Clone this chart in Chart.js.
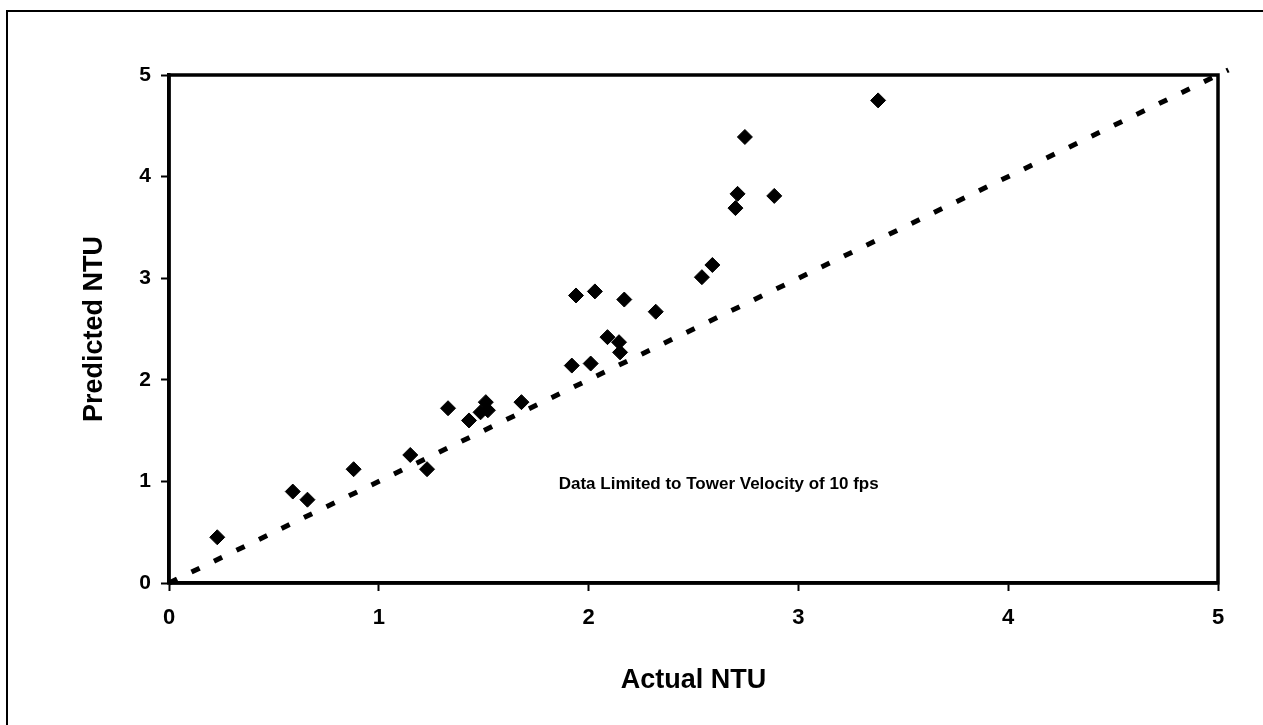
<!DOCTYPE html>
<html>
<head>
<meta charset="utf-8">
<script src="https://cdn.jsdelivr.net/npm/chart.js@4/dist/chart.umd.min.js"></script>
<style>
  html, body { margin: 0; padding: 0; background: #fff; }
  #wrap { width: 1263px; height: 725px; position: relative; }
</style>
</head>
<body>
<div id="wrap"><canvas id="ntuChart" width="1263" height="725"></canvas></div>
<script>
// values
var actualNTU = [0.23, 0.59, 0.66, 0.88, 1.15, 1.23, 1.33, 1.43, 1.485, 1.51, 1.52, 1.68,
                 1.92, 2.01, 2.09, 2.145, 2.15, 1.94, 2.03, 2.17, 2.32, 2.54, 2.59, 2.70,
                 2.71, 2.885, 2.745, 3.38];
var predictedNTU = [0.45, 0.90, 0.82, 1.12, 1.26, 1.12, 1.72, 1.60, 1.68, 1.78, 1.70, 1.78,
                    2.14, 2.16, 2.42, 2.37, 2.27, 2.83, 2.87, 2.79, 2.67, 3.01, 3.13, 3.69,
                    3.83, 3.81, 4.39, 4.75];
var lineX = [0, 5.05];
var lineY = [0, 5.05];
var tickValues = [0, 1, 2, 3, 4, 5];
var noteText = "Data Limited to Tower Velocity of 10 fps";
var noteAt = [2.62, 0.97];

var points = actualNTU.map(function (x, i) { return { x: x, y: predictedNTU[i] }; });
var linePts = lineX.map(function (x, i) { return { x: x, y: lineY[i] }; });

var fontFam = "'Liberation Sans', Arial, sans-serif";

var framePlugin = {
    id: "frame",
    beforeDraw: function (chart) {
        var c = chart.ctx;
        c.save();
        c.fillStyle = "#fff";
        c.fillRect(0, 0, chart.width, chart.height);
        c.strokeStyle = "#000";
        c.lineWidth = 2;
        c.beginPath();
        c.moveTo(7, chart.height + 5);
        c.lineTo(7, 11);
        c.lineTo(chart.width + 5, 11);
        c.stroke();
        c.restore();
    },
    afterDatasetsDraw: function (chart) {
        var c = chart.ctx;
        var a = chart.chartArea;
        c.save();
        c.strokeStyle = "#000";
        c.lineWidth = 3.5;
        c.strokeRect(a.left, a.top, a.right - a.left, a.bottom - a.top);
        var xs = chart.scales.x, ys = chart.scales.y;
        c.fillStyle = "#000";
        c.font = "bold 17px " + fontFam;
        c.letterSpacing = "0px";
        c.textAlign = "center";
        c.textBaseline = "middle";
        c.fillText(noteText, xs.getPixelForValue(noteAt[0]), ys.getPixelForValue(noteAt[1]));
        c.restore();
    }
};

var ctx = document.getElementById("ntuChart").getContext("2d");

var ntuChart = new Chart(ctx, {
    type: "scatter",
    data: {
        datasets: [
            {
                label: "Predicted vs Actual",
                data: points,
                pointStyle: "rectRot",
                pointRadius: 7.5,
                backgroundColor: "#000",
                borderColor: "#000",
                borderWidth: 1,
                order: 1
            },
            {
                type: "line",
                label: "1:1",
                data: linePts,
                borderColor: "#000",
                borderWidth: 5,
                borderDash: [9, 16],
                pointRadius: 0,
                fill: false,
                clip: false,
                order: 2
            }
        ]
    },
    options: {
        responsive: false,
        animation: false,
        layout: {
            padding: { left: 0, top: 75, right: 45, bottom: 0 }
        },
        plugins: {
            legend: { display: false },
            tooltip: { enabled: false }
        },
        scales: {
            x: {
                type: "linear",
                min: 0,
                max: 5,
                afterBuildTicks: function (s) { s.ticks = tickValues.map(function (v) { return { value: v }; }); },
                afterFit: function (s) { s.height = 142; },
                border: { display: true, color: "#000", width: 3.5 },
                grid: { drawOnChartArea: false, drawTicks: true, tickLength: 8, tickColor: "#000", tickWidth: 2 },
                ticks: {
                    color: "#000",
                    padding: 14,
                    font: { family: fontFam, size: 22, weight: "bold" }
                },
                title: {
                    display: true,
                    text: "Actual NTU",
                    color: "#000",
                    padding: { top: 0, bottom: 28 },
                    font: { family: fontFam, size: 27, weight: "bold" }
                }
            },
            y: {
                type: "linear",
                min: 0,
                max: 5,
                afterBuildTicks: function (s) { s.ticks = tickValues.map(function (v) { return { value: v }; }); },
                afterFit: function (s) { s.width = 169; },
                border: { display: true, color: "#000", width: 3.5 },
                grid: { drawOnChartArea: false, drawTicks: true, tickLength: 8, tickColor: "#000", tickWidth: 2 },
                ticks: {
                    color: "#000",
                    padding: 10,
                    font: { family: fontFam, size: 21, weight: "bold" }
                },
                title: {
                    display: true,
                    text: "Predicted NTU",
                    color: "#000",
                    padding: { top: 78, bottom: 0 },
                    font: { family: fontFam, size: 27, weight: "bold" }
                }
            }
        }
    },
    plugins: [framePlugin]
});
</script>
</body>
</html>
